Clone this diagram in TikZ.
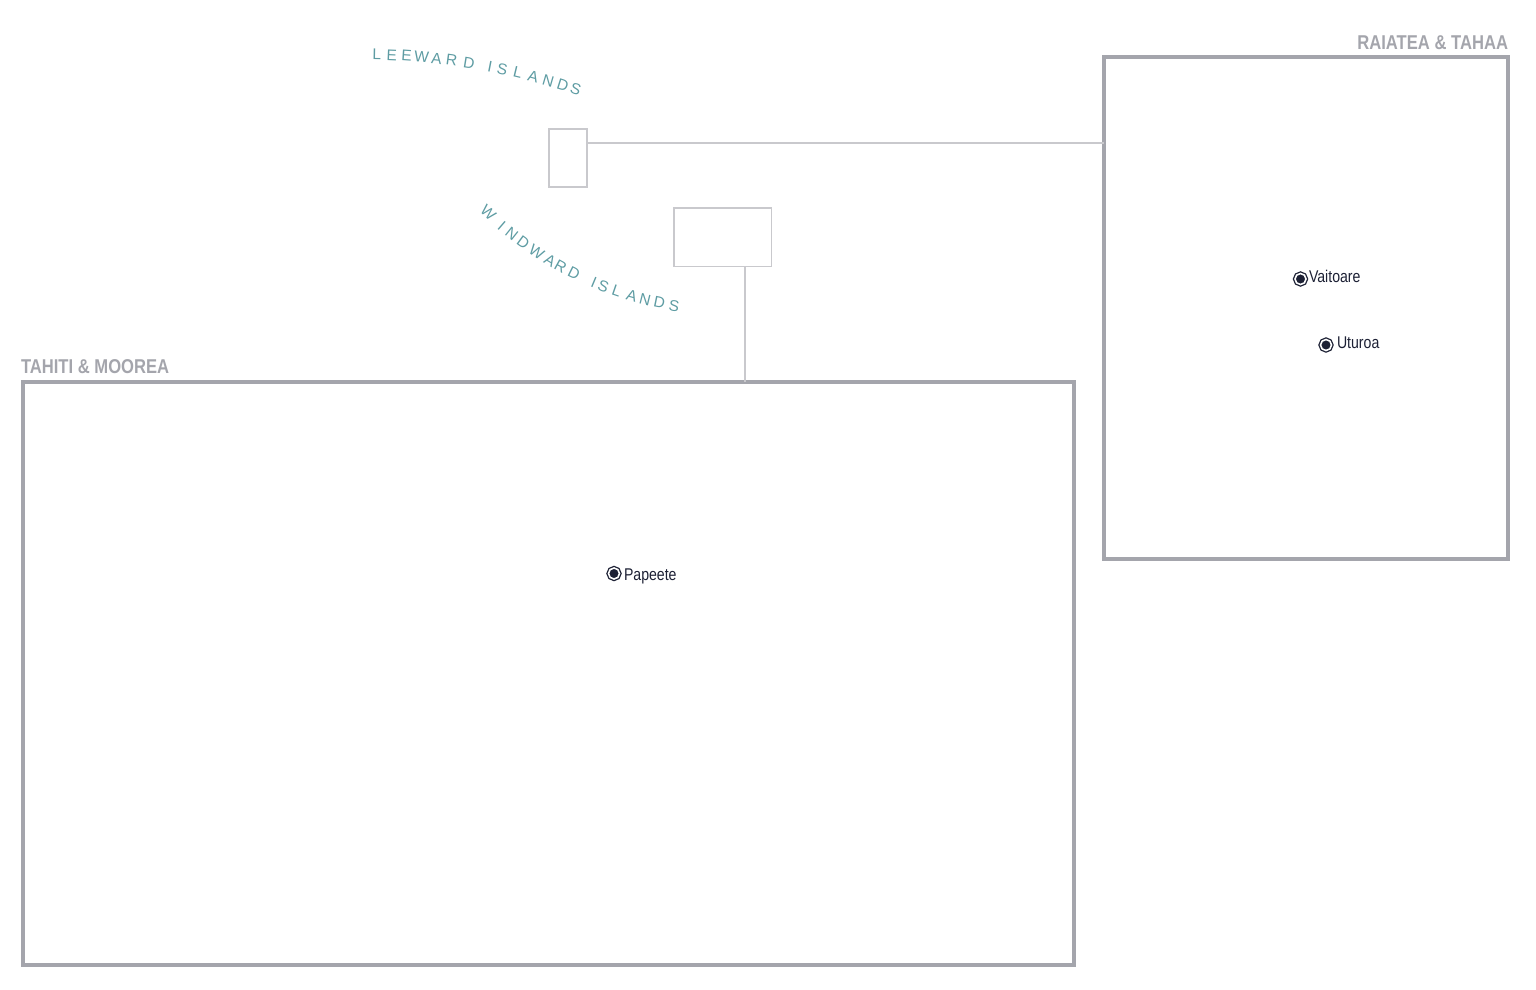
\documentclass[tikz,border=0pt]{standalone}
\usepackage{fontspec}
\setmainfont{Liberation Sans}
\newfontfamily\condfont[FakeStretch=0.83]{Liberation Sans}
\definecolor{boxgray}{HTML}{A4A5AC}
\definecolor{insetgray}{HTML}{C9C9CD}
\definecolor{teal}{HTML}{5E9CA3}
\definecolor{navy}{HTML}{1D2135}

\begin{document}
\begin{tikzpicture}[x=1pt, y=-1pt,
    every node/.style={inner sep=0pt, outer sep=0pt},
    mapbox/.style={draw=boxgray, line width=4pt, rectangle},
    inset/.style={draw=insetgray, line width=1.1pt, rectangle},
    title/.style={font=\condfont\bfseries\fontsize{20}{24}\selectfont, text=boxgray},
    islands/.style={font=\fontsize{15.5}{18}\selectfont, text=teal, anchor=center},
    town/.style={circle, draw=navy, fill=navy, line width=1.3pt, double=white, double distance=1.6pt, minimum size=11pt},
    townlabel/.style={font=\condfont\fontsize{17}{20}\selectfont, text=navy, anchor=base west}]
    \useasboundingbox (0,0) rectangle (1536,989);

    % Map frames
    \node[mapbox, minimum width=404pt, minimum height=502pt] (raiatea) at (1306,308) {};
    \node[mapbox, minimum width=1050.7pt, minimum height=582.5pt] (tahiti) at (548.35,673.25) {};
    \node[title, anchor=base east] (raiatea-t) at (1508,49.5) {RAIATEA \& TAHAA};
    \node[title, anchor=base west] (tahiti-t) at (21,373.5) {TAHITI \& MOOREA};

    % Inset rectangles
    \node[inset, minimum width=38pt, minimum height=58pt] (leeward) at (568,158) {};
    \node[inset, minimum width=97.5pt, minimum height=58.5pt] (windward) at (722.75,237.25) {};

    % Connectors
    \coordinate (lw-out) at (587,143);
    \coordinate (ww-out) at (745,266.5);
    \draw[insetgray, line width=1.1pt] (lw-out) -- (lw-out -| raiatea.west);
    \draw[insetgray, line width=1.1pt] (ww-out) -- (ww-out |- tahiti.north);

    % Curved island group names (letter/angle on the arc)
    \foreach \ch/\a [count=\i] in {L/-88.82, E/-87.52, E/-86.22, W/-84.91, A/-83.61, R/-82.30, D/-80.78,
            I/-78.93, S/-77.84, L/-76.47, A/-75.08, N/-73.73, D/-72.42, S/-71.24}
        \node[islands, rotate={-(\a+90)}] (lw-\i) at ({363.1+661*cos(\a)},{715.3+661*sin(\a)}) {\ch};
    \foreach \ch/\a [count=\i] in {W/133.70, I/130.73, N/128.60, D/126.21, W/123.54, A/120.96, R/118.94, D/116.48,
            I/112.87, S/111.23, L/108.89, A/106.31, N/104.06, D/101.65, S/99.21}
        \node[islands, rotate={90-\a}] (ww-\i) at ({729.95+349.8*cos(\a)},{-39.7+349.8*sin(\a)}) {\ch};

    % Towns
    \node[town] (vaitoare) at (1300.5,279) {};
    \node[townlabel] (vaitoare-l) at (1309,282) {Vaitoare};
    \node[town] (uturoa) at (1326,345) {};
    \node[townlabel] (uturoa-l) at (1337,348) {Uturoa};
    \node[town] (papeete) at (614,573.5) {};
    \node[townlabel] (papeete-l) at (624,580) {Papeete};
\end{tikzpicture}
\end{document}
